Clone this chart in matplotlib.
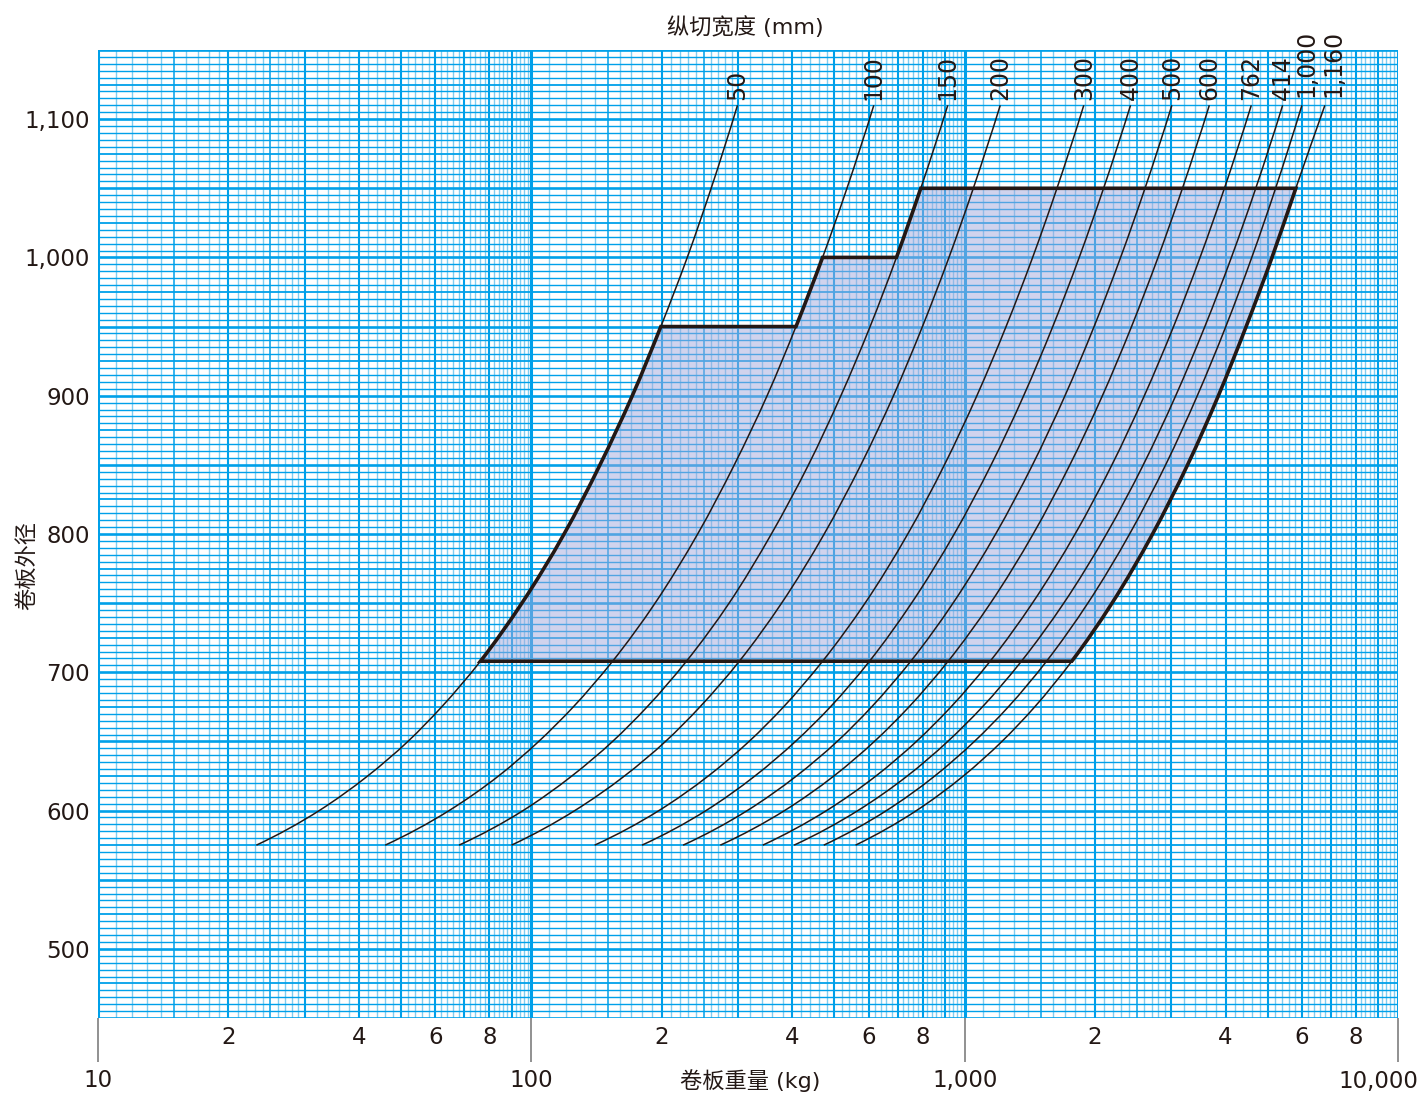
import matplotlib
matplotlib.use('Agg')
import matplotlib.pyplot as plt
import matplotlib.ticker as mtick
from matplotlib.path import Path
from matplotlib.patches import PathPatch
import numpy as np

plt.rcParams['font.family'] = ['DejaVu Sans', 'Noto Sans CJK SC']
plt.rcParams['font.size'] = 16

# ── Data ────────────────────────────────────────────────────────────────────
# outer coil diameter (mm) at which each weight curve was read
DIAMETERS = [575, 600, 625, 650, 675, 708, 750, 800, 850, 900, 950, 1000, 1050, 1110]

# coil weight (kg) per slit width
W_50   = [23.2, 32.4, 41.9, 51.9, 62.1, 76.3, 95.1, 119, 144, 171, 199, 229, 260, 299]
W_100  = [46.0, 64.6, 84.0, 104, 125, 154, 193, 242, 294, 350, 408, 470, 535, 617]
W_150  = [68.1, 95.7, 124, 154, 185, 228, 286, 358, 436, 518, 605, 696, 792, 914]
W_200  = [90.0, 126, 164, 204, 245, 302, 378, 474, 576, 685, 799, 920, 1047, 1208]
W_300  = [140, 197, 256, 318, 382, 470, 589, 739, 898, 1067, 1246, 1435, 1633, 1883]
W_400  = [180, 253, 328, 407, 490, 603, 754, 946, 1151, 1368, 1597, 1838, 2092, 2414]
W_500  = [224, 315, 409, 508, 610, 751, 940, 1179, 1434, 1704, 1989, 2290, 2607, 3007]
W_600  = [273, 384, 499, 619, 744, 916, 1147, 1439, 1749, 2079, 2427, 2794, 3181, 3669]
W_762  = [342, 480, 624, 774, 930, 1145, 1433, 1798, 2187, 2598, 3034, 3493, 3976, 4586]
W_914  = [404, 567, 737, 914, 1099, 1352, 1693, 2124, 2583, 3069, 3583, 4126, 4696, 5417]
W_1000 = [473, 660, 853, 1053, 1261, 1545, 1924, 2402, 2909, 3442, 4005, 4598, 5218, 6001]
W_1160 = [560, 774, 993, 1219, 1451, 1767, 2188, 2714, 3269, 3850, 4462, 5120, 5810, 6780]

CURVES = [W_50, W_100, W_150, W_200, W_300, W_400, W_500, W_600,
          W_762, W_914, W_1000, W_1160]
CURVE_LABELS = ['50', '100', '150', '200', '300', '400', '500', '600',
                '762', '414', '1,000', '1,160']

# usable range (shaded): left edge steps along three curves, right edge along 1160
STEPS = [(W_50, 708, 950), (W_100, 950, 1000), (W_150, 1000, 1050)]
RANGE_RIGHT = (W_1160, 1050, 708)

Y_TICKS = [500, 600, 700, 800, 900, 1000, 1100]
X_MAJOR = [10, 100, 1000, 10000]
X_MAJOR_LABELS = ['10', '100', '1,000', '']
X_MINOR = [m * b for b in (10, 100, 1000) for m in (2, 4, 6, 8)]

GRID_C = '#00A0E9'
LIGHT_C = '#80CDF1'
INK = '#231815'

fig = plt.figure(figsize=(14.26, 10.95), dpi=100)
ax = fig.add_axes([98 / 1426, 1 - 1018 / 1095, 1300 / 1426, 968 / 1095])
ax.set_xscale('log')
ax.set_xlim(10, 10000)
ax.set_ylim(450, 1150)

# ── log-paper grid ───────────────────────────────────────────────────────────
for base in (10, 100, 1000):
    mant = np.concatenate([np.arange(1.0, 3.0, 0.1), np.arange(3.0, 10.0, 0.2)])
    for m in np.round(mant, 2):
        if m == 1.0:
            lw, c = 2.2, GRID_C
        elif abs(m - round(m)) < 1e-6:
            lw, c = 1.5, GRID_C
        elif abs(m * 2 - round(m * 2)) < 1e-6:
            lw, c = 1.1, GRID_C
        else:
            lw, c = 1.0, LIGHT_C
        ax.axvline(m * base, color=c, lw=lw, zorder=1)
ax.axvline(10000, color=GRID_C, lw=2.2, zorder=1)

for y in range(450, 1151, 5):
    if y % 50 == 0:
        lw = 1.9
    elif y % 25 == 0:
        lw = 1.3
    else:
        lw = 1.0
    ax.axhline(y, color=GRID_C, lw=lw, zorder=1)


# ── smooth curves through the read points (cubic Bezier path segments) ──────
SX, SY = 433.0, 1.382      # screen px per decade / per mm, for the spline parameter


def controls(w):
    P = np.column_stack([np.log10(w), np.array(DIAMETERS, float)])
    seg = np.diff(P, axis=0)
    h = np.hypot(seg[:, 0] * SX, seg[:, 1] * SY)
    slope = seg / h[:, None]
    T = np.empty_like(P)
    T[1:-1] = (slope[1:] * h[:-1, None] + slope[:-1] * h[1:, None]) / \
        (h[:-1] + h[1:])[:, None]
    T[0] = 2 * slope[0] - T[1]
    T[-1] = 2 * slope[-1] - T[-2]
    c1 = P[:-1] + T[:-1] * (h[:, None] / 3)
    c2 = P[1:] - T[1:] * (h[:, None] / 3)
    return P, c1, c2


def to_xy(p):
    return (10 ** p[0], p[1])


def spline_verts(w, d0, d1):
    P, c1, c2 = controls(w)
    i0, i1 = DIAMETERS.index(d0), DIAMETERS.index(d1)
    verts = []
    if i1 > i0:
        for k in range(i0, i1):
            verts += [to_xy(c1[k]), to_xy(c2[k]), to_xy(P[k + 1])]
    else:
        for k in range(i0 - 1, i1 - 1, -1):
            verts += [to_xy(c2[k]), to_xy(c1[k]), to_xy(P[k])]
    return verts


# shaded usable range
verts, codes = [], []
for j, (w, lo, hi) in enumerate(STEPS):
    verts.append((w[DIAMETERS.index(lo)], lo))
    codes.append(Path.MOVETO if j == 0 else Path.LINETO)
    sv = spline_verts(w, lo, hi)
    verts += sv
    codes += [Path.CURVE4] * len(sv)
w, hi, lo = RANGE_RIGHT
verts.append((w[DIAMETERS.index(hi)], hi))
codes.append(Path.LINETO)
sv = spline_verts(w, hi, lo)
verts += sv
codes += [Path.CURVE4] * len(sv)
verts.append(verts[0])
codes.append(Path.CLOSEPOLY)
range_path = Path(verts, codes)

ax.add_patch(PathPatch(range_path, facecolor='#A2A9DD', alpha=0.5, lw=0,
                       zorder=2))

# ── weight curves ────────────────────────────────────────────────────────────
LABEL_SHIFT = {'1,000': (3, 6), '1,160': (6, 6)}
for w, lab in zip(CURVES, CURVE_LABELS):
    sv = spline_verts(w, DIAMETERS[0], DIAMETERS[-1])
    cpath = Path([(w[0], DIAMETERS[0])] + sv,
                 [Path.MOVETO] + [Path.CURVE4] * len(sv))
    ax.add_patch(PathPatch(cpath, fill=False, edgecolor=INK, lw=1.1, zorder=3))
    dx, dy = LABEL_SHIFT.get(lab, (0, 4))
    ax.annotate(lab, xy=(w[-1], DIAMETERS[-1]), xytext=(dx, dy),
                textcoords='offset points', rotation=90,
                ha='center', va='bottom', fontsize=17, color=INK,
                annotation_clip=False)

ax.add_patch(PathPatch(range_path, fill=False, edgecolor=INK, lw=2.6,
                       joinstyle='miter', zorder=4))

# ── axes / ticks ─────────────────────────────────────────────────────────────
for s in ax.spines.values():
    s.set_visible(False)

ax.set_yticks(Y_TICKS)
ax.yaxis.set_major_formatter(mtick.FuncFormatter(lambda v, _: f'{v:,.0f}'))
ax.tick_params(axis='y', length=0, pad=6, labelsize=16.5, labelcolor=INK)

ax.xaxis.set_major_locator(mtick.FixedLocator(X_MAJOR))
ax.xaxis.set_major_formatter(mtick.FixedFormatter(X_MAJOR_LABELS))
ax.xaxis.set_minor_locator(mtick.FixedLocator(X_MINOR))
ax.xaxis.set_minor_formatter(
    mtick.FixedFormatter([str(int(str(v)[0])) for v in X_MINOR]))
ax.tick_params(axis='x', which='major', length=32, width=1.3, color='#888888',
               pad=5, labelsize=16.5, labelcolor=INK)
ax.tick_params(axis='x', which='minor', length=0, pad=6, labelsize=16.5,
               labelcolor=INK)
ax.annotate('10,000', xy=(10000, 450), xytext=(-14, -37.5),
            textcoords='offset points', ha='center', va='top',
            fontsize=16.5, color=INK, annotation_clip=False)

fig.text(750 / 1426, 1 - 1081 / 1095, '卷板重量 (kg)', ha='center', va='center',
         fontsize=16, color=INK)
fig.text(745 / 1426, 1 - 27 / 1095, '纵切宽度 (mm)', ha='center', va='center',
         fontsize=16, color=INK)
fig.text(27 / 1426, 1 - 565 / 1095, '卷板外径', ha='center', va='center',
         rotation=90, fontsize=16, color=INK)

fig.savefig('out.png', dpi=100, facecolor='white')
